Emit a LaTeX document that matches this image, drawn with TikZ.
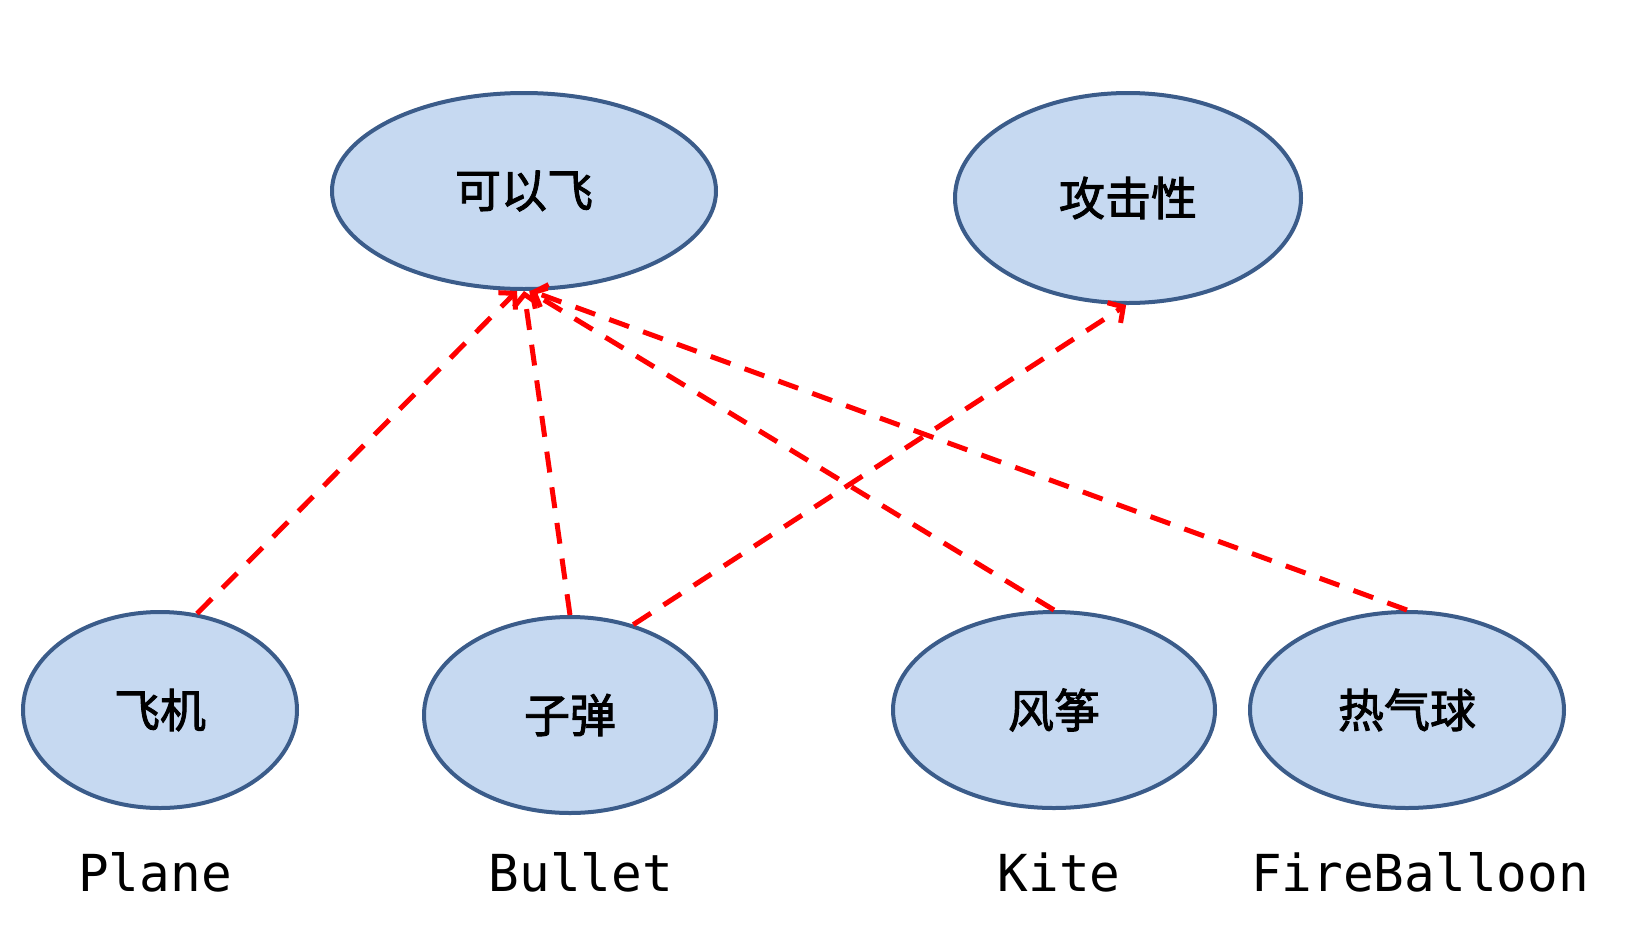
\documentclass[tikz,border=0pt]{standalone}
\usepackage{fontspec}
\usetikzlibrary{shapes.geometric,arrows.meta}
\newfontfamily\cjk{Noto Sans CJK SC}[FakeBold=2]
\newfontfamily\monof{DejaVu Sans Mono}
\definecolor{ellfill}{HTML}{C6D9F1}
\definecolor{elldraw}{HTML}{3B5C8A}
\definecolor{arrred}{HTML}{FF0000}
\begin{document}
\begin{tikzpicture}[x=1pt,y=-1pt,
  ell/.style={ellipse,draw=elldraw,fill=ellfill,line width=4pt,inner sep=0pt,
    font=\cjk\fontsize{46}{48}\selectfont},
  lbl/.style={anchor=base,inner sep=0pt,font=\monof\fontsize{51}{53}\selectfont},
  dep/.style={draw=arrred,line width=5pt,dash pattern=on 21pt off 15pt,
    -{Straight Barb[length=11pt,width=24pt,line width=5pt]}}]
\useasboundingbox (0,0) rectangle (1628,927);
\node[ell,minimum width=384pt,minimum height=196pt] (fly) at (524,191) {可以飞};
\node[ell,minimum width=346pt,minimum height=210pt] (attack) at (1128,198) {攻击性};
\node[ell,minimum width=274pt,minimum height=196pt] (plane) at (160,710) {飞机};
\node[ell,minimum width=292pt,minimum height=196pt] (bullet) at (570,715) {子弹};
\node[ell,minimum width=322pt,minimum height=196pt] (kite) at (1054,710) {风筝};
\node[ell,minimum width=314pt,minimum height=196pt] (balloon) at (1407,710) {热气球};
\node[lbl] (lplane) at (155,891) {Plane};
\node[lbl] (lbullet) at (581,891) {Bullet};
\node[lbl] (lkite) at (1059,891) {Kite};
\node[lbl] (lballoon) at (1420,891) {FireBalloon};
\draw[dep] (plane.69) -- (fly.266);
\draw[dep] (bullet.north) -- (fly.270);
\draw[dep] (kite.north) -- (fly.273);
\draw[dep] (balloon.north) -- (fly.274);
\draw[dep] (bullet.55) -- (attack.269);
\end{tikzpicture}
\end{document}
